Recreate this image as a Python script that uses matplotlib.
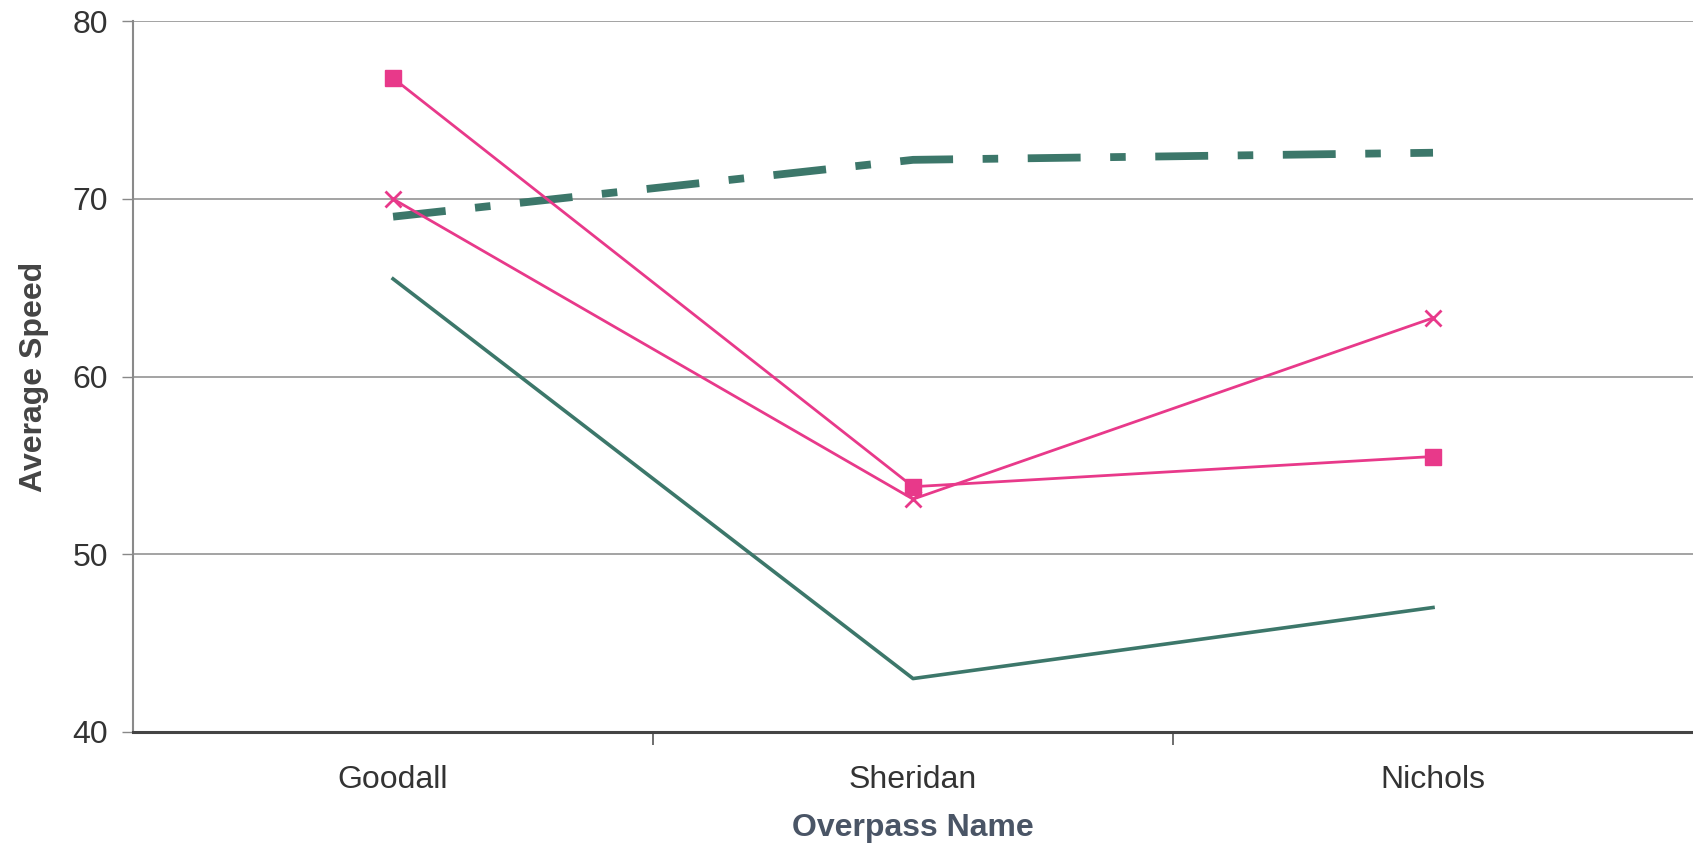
import matplotlib.pyplot as plt

plt.rcParams['font.family'] = ['Liberation Sans', 'DejaVu Sans']

OVERPASSES = ['Goodall', 'Sheridan', 'Nichols']
PINK_SQUARE = [76.8, 53.8, 55.5]
PINK_CROSS = [70.0, 53.1, 63.3]
GREEN_SOLID = [65.5, 43.0, 47.0]
GREEN_DASHED = [69.0, 72.2, 72.6]

PINK = '#e8398a'
GREEN = '#3c776a'


def main():
    fig = plt.figure(figsize=(16.93, 8.51), dpi=100)
    ax = fig.add_axes([0.0786, 0.14, 0.9214, 0.835])
    x = range(len(OVERPASSES))

    ax.plot(x, GREEN_DASHED, color=GREEN, lw=5.6, dashes=(6.8, 3.8, 2, 3.8),
            dash_capstyle='butt', zorder=3)
    ax.plot(x, GREEN_SOLID, color=GREEN, lw=2.6, zorder=3)
    ax.plot(x, PINK_SQUARE, color=PINK, lw=2, marker='s', ms=11.5,
            mec=PINK, zorder=4)
    ax.plot(x, PINK_CROSS, color=PINK, lw=2, marker='x', ms=12,
            mew=2, zorder=4)

    ax.set_xlim(-0.5, 2.5)
    ax.set_ylim(40, 80)
    ax.set_yticks([40, 50, 60, 70, 80])
    ax.set_xticks(list(x))
    ax.set_xticklabels(OVERPASSES)
    ax.set_xticks([0.5, 1.5], minor=True)
    ax.tick_params(axis='x', which='major', length=0, pad=24,
                   labelsize=23, labelcolor='#333333')
    ax.tick_params(axis='x', which='minor', length=9, width=1.2,
                   color='#555555')
    ax.tick_params(axis='y', length=8, width=1, color='#888888', pad=10,
                   labelsize=23, labelcolor='#333333')

    ax.grid(axis='y', color='#8a8a8a', lw=1.1)
    ax.set_axisbelow(True)
    for side in ('top', 'right'):
        ax.spines[side].set_visible(False)
    ax.spines['left'].set_color('#8a8a8a')
    ax.spines['left'].set_linewidth(1.5)
    ax.spines['bottom'].set_color('#444444')
    ax.spines['bottom'].set_linewidth(2.2)

    ax.set_xlabel('Overpass Name', fontsize=23, fontweight='bold',
                  color='#4a5566', labelpad=13)
    ax.set_ylabel('Average Speed', fontsize=23, fontweight='bold',
                  color='#444444', labelpad=17)

    fig.savefig('out.png', dpi=100)


if __name__ == '__main__':
    main()
